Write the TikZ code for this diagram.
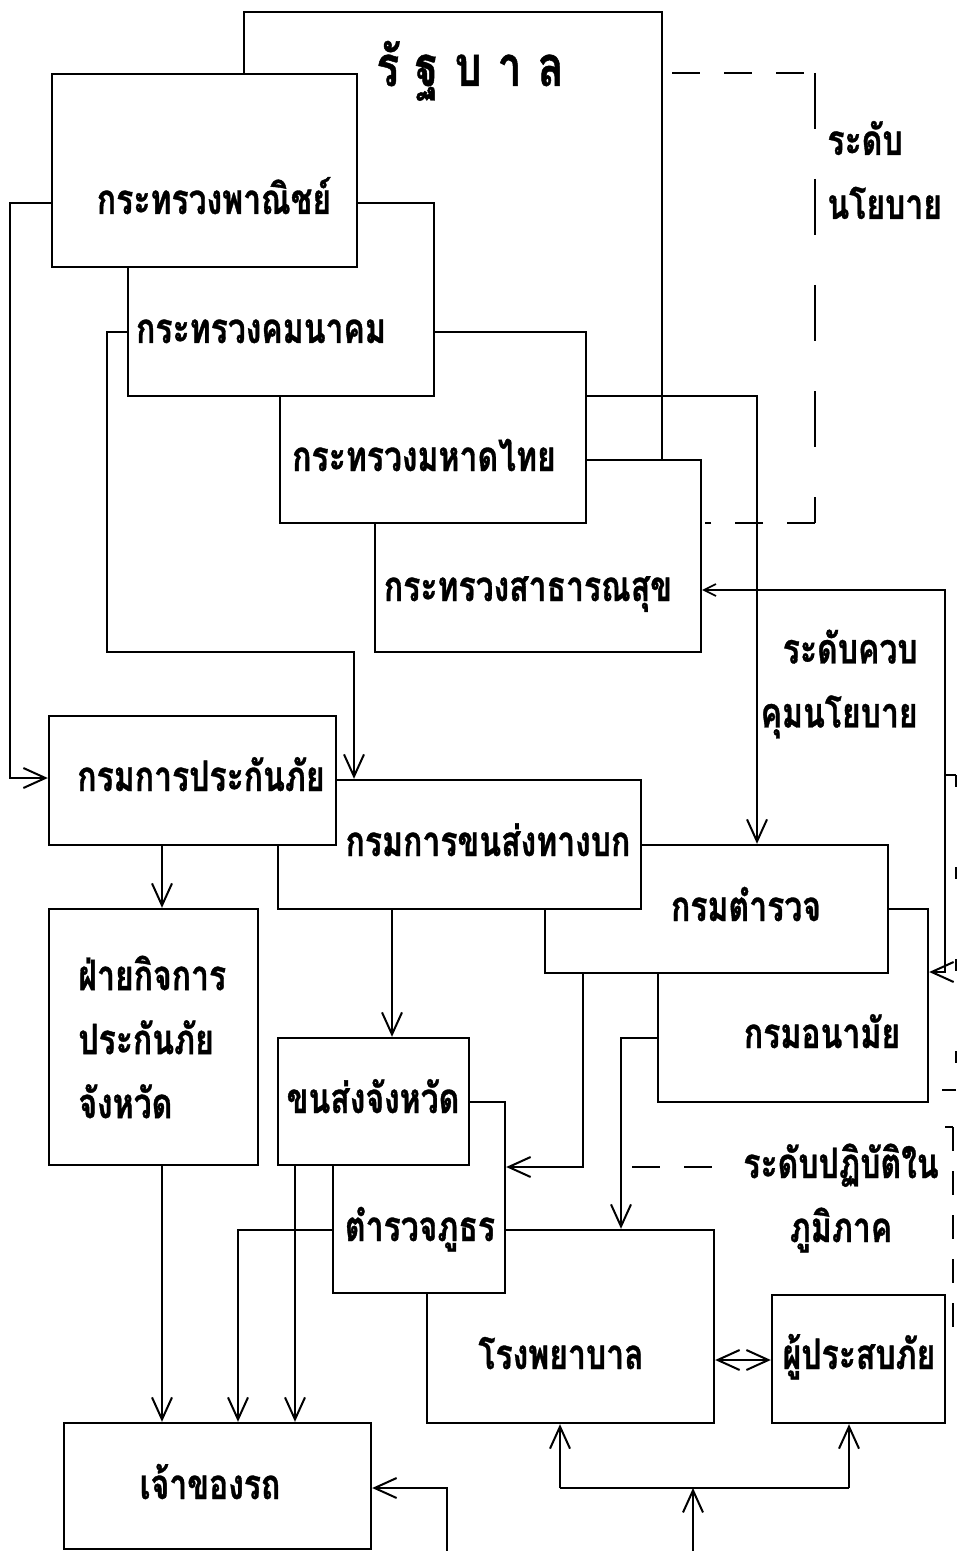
\documentclass[tikz,border=0pt]{standalone}
\usepackage{fontspec}
\newfontfamily\thai[Script=Thai,FakeStretch=0.76,FakeBold=0.8]{Loma}
\usetikzlibrary{arrows.meta,fit}

\begin{document}
\begin{tikzpicture}[x=0.5pt,y=-0.5pt,
  box/.style={draw,fill=white,line width=1.2pt,inner sep=0pt},
  lbl/.style={font=\thai\bfseries\fontsize{21}{32}\selectfont,inner sep=0pt},
  ttl/.style={font=\thai\bfseries\fontsize{28}{30}\selectfont,inner sep=0pt},
  wire/.style={line width=1pt},
  tip/.tip={Straight Barb[length=11pt,width=10pt,line width=1pt]},
  arr/.style={wire,-tip},
  dsh/.style={line width=1pt,dash pattern=on 28pt off 25pt},
  dshs/.style={line width=1pt,dash pattern=on 14pt off 12pt}
]
\useasboundingbox (0,0) rectangle (957,1551);

% ---- boxes, from the back to the front
\node[box,fit={(64,1423)(371,1549)}] (own) {};
\node[box,fit={(772,1295)(945,1423)}] (vic) {};
\node[box,fit={(427,1230)(714,1423)}] (hos) {};
\node[box,fit={(333,1102)(505,1293)}] (tph) {};
\node[box,fit={(278,1038)(469,1165)}] (kjw) {};
\node[box,fit={(49,909)(258,1165)}] (fai) {};
\node[box,fit={(658,909)(928,1102)}] (anm) {};
\node[box,fit={(545,845)(888,973)}] (pol) {};
\node[box,fit={(278,780)(641,909)}] (khn) {};
\node[box,fit={(49,716)(336,845)}] (pri) {};
\node[box,fit={(375,460)(701,652)}] (sat) {};
\node[box,fit={(280,332)(586,523)}] (mah) {};
\node[box,fit={(128,203)(434,396)}] (kom) {};
\node[box,fit={(52,74)(357,267)}] (pan) {};

% ---- bend points
\coordinate (g1) at (244,12);
\coordinate (g2) at (662,12);
\coordinate (d1) at (672,73);
\coordinate (d2) at (815,73);
\coordinate (d3) at (815,523);
\coordinate (d4) at (705,523);
\coordinate (pL) at (10,203);
\coordinate (pR) at (10,778);
\coordinate (kL) at (107,332);
\coordinate (kB) at (107,652);
\coordinate (kT) at (354,652);
\coordinate (mR) at (757,396);
\coordinate (sR) at (945,590);
\coordinate (sB) at (945,972);
\coordinate (pB) at (583,1167);
\coordinate (aL) at (621,1038);
\coordinate (tL) at (238,1230);
\coordinate (oR) at (447,1488);
\coordinate (oB) at (447,1551);
\coordinate (hL) at (560,1488);
\coordinate (hR) at (849,1488);
\coordinate (hM) at (693,1488);
\coordinate (hB) at (693,1551);
\coordinate (e1) at (632,1167);
\coordinate (e2) at (720,1167);
\coordinate (r1) at (946,775);
\coordinate (r2) at (956,775);
\coordinate (r3) at (956,1090);
\coordinate (r4) at (942,1090);
\coordinate (q1) at (945,1127);
\coordinate (q2) at (953,1127);
\coordinate (q3) at (953,1340);

% ---- government frame
\draw[wire] (pan.north -| g1) -- (g1) -- (g2) -- (g2 |- sat.north);

% ---- level brackets
\draw[dshs] (d1) -- (d2);
\draw[dsh] (d2) -- (d3);
\draw[dshs] (d3) -- (d4);
\draw[dshs] (e1) -- (e2);
\draw[line width=0.8pt] (r1) -- (r2);
\draw[line width=0.8pt,dash pattern=on 6pt off 40pt] (r2) -- (r3);
\draw[line width=0.8pt] (r3) -- (r4);
\draw[line width=0.8pt] (q1) -- (q2);
\draw[line width=0.8pt,dash pattern=on 12pt off 10pt] (q2) -- (q3);

% ---- connectors
\draw[arr] (pan.west |- pL) -- (pL) -- (pR) -- (pri.west |- pR);
\draw[arr] (kom.west |- kL) -- (kL) -- (kB) -- (kT) -- (kT |- khn.north);
\draw[arr] (mah.east |- mR) -- (mR) -- (mR |- pol.north);
\draw[wire,{Straight Barb[length=6pt,width=6pt,line width=0.8pt]}-tip]
  (sat.east |- sR) -- (sR) -- (sB) -- (anm.east |- sB);
\draw[arr] (pri.south -| 162,0) -- (fai.north -| 162,0);
\draw[arr] (khn.south -| 392,0) -- (kjw.north -| 392,0);
\draw[arr] (pol.south -| pB) -- (pB) -- (tph.east |- pB);
\draw[arr] (anm.west |- aL) -- (aL) -- (aL |- hos.north);
\draw[arr] (fai.south -| 162,0) -- (own.north -| 162,0);
\draw[arr] (kjw.south -| 295,0) -- (own.north -| 295,0);
\draw[arr] (tph.west |- tL) -- (tL) -- (tL |- own.north);
\draw[wire,tip-tip] (hos.east |- 0,1360) -- (vic.west |- 0,1360);
\draw[arr] (oB) -- (oR) -- (own.east |- oR);
\draw[wire] (hL) -- (hR);
\draw[arr] (hL) -- (hL |- hos.south);
\draw[arr] (hR) -- (hR |- vic.south);
\draw[arr] (hB) -- (hM);

% ---- texts
\node[ttl,anchor=base] (tgov) at (470,86) {รั\hspace{8pt}ฐ\hspace{8pt}บ\hspace{8pt}า\hspace{8pt}ล};
\node[lbl,anchor=base] (tpan) at (214,214) {กระทรวงพาณิชย์};
\node[lbl,anchor=base] (tkom) at (261,343) {กระทรวงคมนาคม};
\node[lbl,anchor=base] (tmah) at (424,471) {กระทรวงมหาดไทย};
\node[lbl,anchor=base] (tsat) at (528,601) {กระทรวงสาธารณสุข};
\node[lbl,anchor=base] (tpri) at (201,791) {กรมการประกันภัย};
\node[lbl,anchor=base] (tkhn) at (488,856) {กรมการขนส่งทางบก};
\node[lbl,anchor=base] (tpol) at (746,921) {กรมตำรวจ};
\node[lbl,anchor=base] (tanm) at (822,1048) {กรมอนามัย};
\node[lbl,anchor=west,align=left] (tfai) at (78,1037) {ฝ่ายกิจการ\\ประกันภัย\\จังหวัด};
\node[lbl,anchor=base] (tkjw) at (373,1113) {ขนส่งจังหวัด};
\node[lbl,anchor=base] (ttph) at (420,1241) {ตำรวจภูธร};
\node[lbl,anchor=base] (thos) at (561,1369) {โรงพยาบาล};
\node[lbl,anchor=base] (tvic) at (859,1369) {ผู้ประสบภัย};
\node[lbl,anchor=base] (town) at (210,1499) {เจ้าของรถ};
\node[lbl,anchor=west,align=left] (tlv1) at (827,170) {ระดับ\\นโยบาย};
\node[lbl,anchor=east,align=right] (tlv2) at (918,684) {ระดับควบ\\คุมนโยบาย};
\node[lbl,anchor=center,align=center] (tlv3) at (841,1198) {ระดับปฏิบัติใน\\ภูมิภาค};
\end{tikzpicture}
\end{document}
